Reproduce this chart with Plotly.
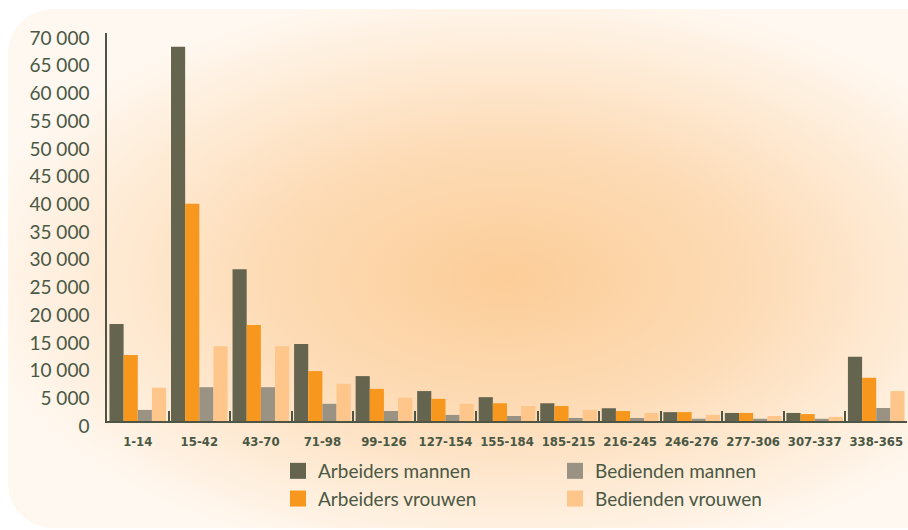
import base64
import plotly.graph_objects as go

categories = ["1-14", "15-42", "43-70", "71-98", "99-126", "127-154", "155-184",
              "185-215", "216-245", "246-276", "277-306", "307-337", "338-365"]
arbeiders_mannen = [17500, 67500, 27400, 13900, 8100, 5400, 4300, 3200, 2300, 1600, 1450, 1450, 11600]
arbeiders_vrouwen = [11900, 39200, 17300, 9000, 5800, 4000, 3200, 2700, 1800, 1600, 1450, 1250, 7800]
bedienden_mannen = [2000, 6100, 6100, 3100, 1800, 1100, 900, 550, 550, 400, 400, 400, 2350]
bedienden_vrouwen = [6000, 13500, 13500, 6700, 4200, 3100, 2700, 2000, 1450, 1100, 900, 750, 5400]
y_ticks = list(range(0, 70001, 5000))
y_tick_labels = [f"{v:,}".replace(",", " ") for v in y_ticks]

series = [
    ("Arbeiders mannen", arbeiders_mannen, "#65654f", 1),
    ("Arbeiders vrouwen", arbeiders_vrouwen, "#f7971e", 3),
    ("Bedienden mannen", bedienden_mannen, "#9a9282", 2),
    ("Bedienden vrouwen", bedienden_vrouwen, "#fec68a", 4),
]

W, H = 908, 530
L, R, T, B = 107, 1, 33, 109
pw, ph = W - L - R, H - T - B

fig = go.Figure()
for name, vals, color, rank in series:
    fig.add_trace(go.Bar(x=categories, y=vals, name=name, marker_color=color,
                         marker_line_width=0, showlegend=False))
for name, vals, color, rank in series:
    fig.add_trace(go.Scatter(x=[None], y=[None], mode="markers", name=name,
                             marker=dict(symbol="square", size=16, color=color),
                             legendrank=rank, showlegend=True))

svg = f'''<svg xmlns="http://www.w3.org/2000/svg" width="{W}" height="{H}" viewBox="0 0 {W} {H}">
<defs><radialGradient id="g" cx="0.52" cy="0.52" r="0.56">
<stop offset="0" stop-color="#fccd98"/>
<stop offset="0.45" stop-color="#fddbb5"/>
<stop offset="1" stop-color="#fff8f0"/>
</radialGradient></defs>
<rect x="8" y="9" width="960" height="519" rx="45" ry="45" fill="url(#g)"/>
</svg>'''
src = "data:image/svg+xml;base64," + base64.b64encode(svg.encode()).decode()

fig.add_layout_image(dict(source=src, xref="paper", yref="paper",
                          x=-L / pw, y=1 + T / ph, sizex=W / pw, sizey=H / ph,
                          xanchor="left", yanchor="top", sizing="stretch",
                          layer="below"))

txt = "#4a5844"
fig.update_layout(
    width=W, height=H, autosize=False,
    margin=dict(l=L, r=R, t=T, b=B, autoexpand=False),
    paper_bgcolor="white", plot_bgcolor="rgba(0,0,0,0)",
    barmode="group", bargap=0.08, bargroupgap=0,
    font=dict(family="Lato", color=txt),
    showlegend=True,
    legend=dict(orientation="h", x=(278 - L) / pw, xanchor="left",
                y=(421 - 452) / ph, yanchor="top",
                entrywidth=232, entrywidthmode="pixels",
                font=dict(family="Lato", size=19, color=txt),
                bgcolor="rgba(0,0,0,0)", traceorder="normal"),
)
fig.update_xaxes(type="category", showline=True, linecolor="#4f5545", linewidth=2,
                 ticks="inside", tickson="boundaries", ticklen=10, tickwidth=2,
                 tickcolor="#4f5545", showgrid=False, tickangle=0,
                 tickfont=dict(family="DejaVu Sans Condensed, Liberation Sans Narrow, Roboto",
                               size=13, color=txt, weight="bold"),
                 ticklabelstandoff=7,
                 range=[-0.5, len(categories) - 0.5])
fig.update_yaxes(range=[0, 70000], showline=True, linecolor="#4f5545", linewidth=1.5,
                 showgrid=False, zeroline=False, ticks="",
                 tickvals=y_ticks, ticktext=y_tick_labels,
                 tickfont=dict(family="Lato", size=19, color=txt),
                 ticklabelstandoff=12, ticklabelshift=5)

fig.write_html("out.html", config={"displayModeBar": False},
               post_script="document.body.style.margin='0';document.body.style.overflow='hidden';")
